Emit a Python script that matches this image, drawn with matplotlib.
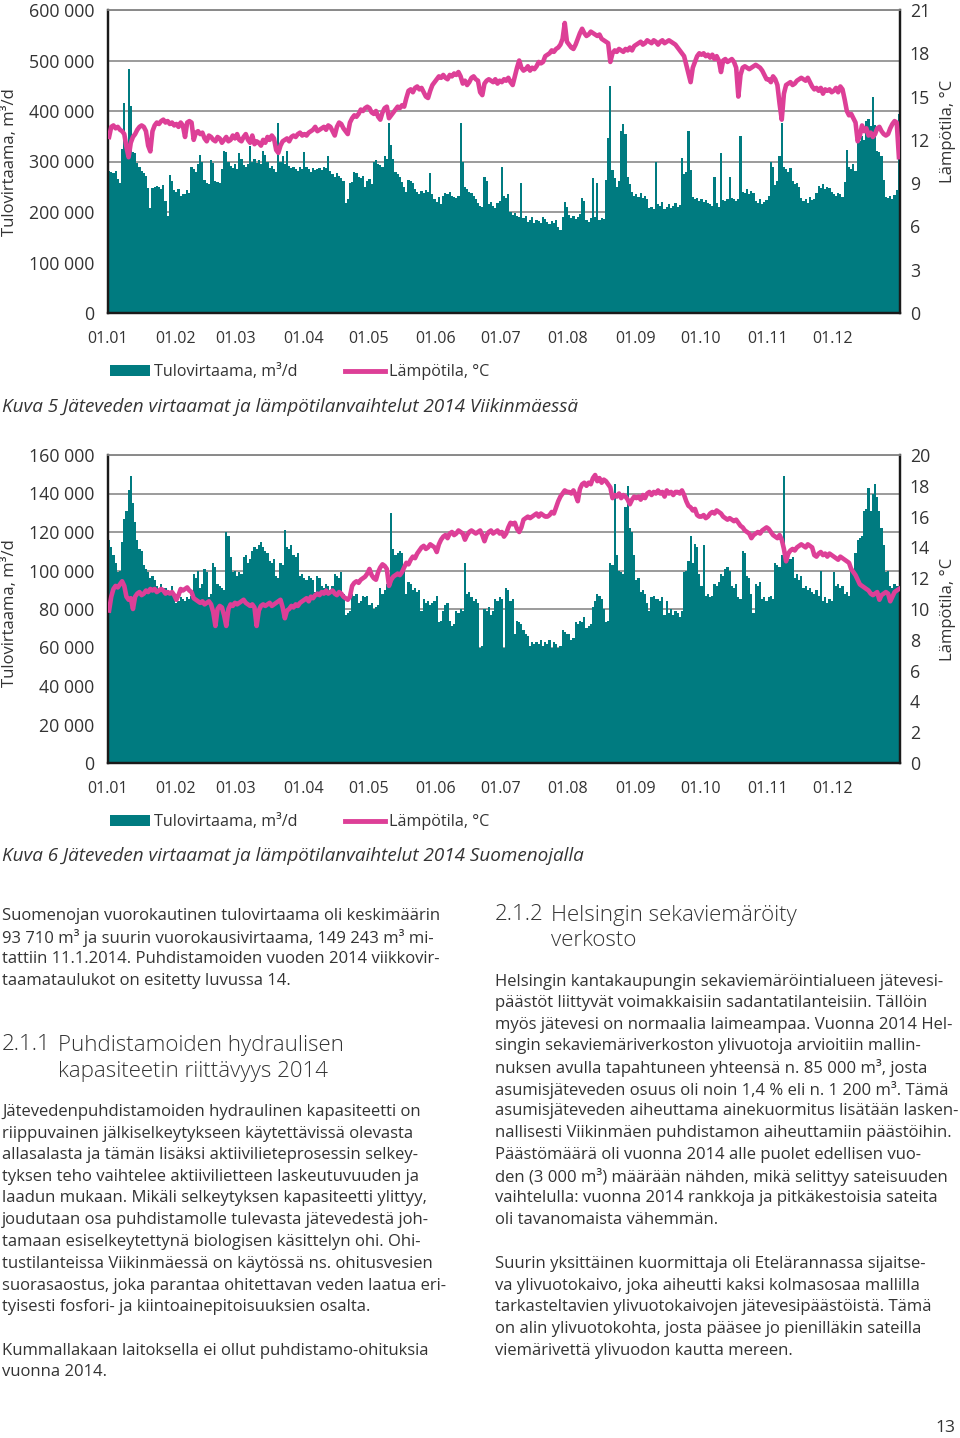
import matplotlib
matplotlib.use('Agg')
from matplotlib import pyplot as plt
from matplotlib.lines import Line2D
from matplotlib.patches import Patch
import numpy as np

plt.rcParams['font.family'] = ['Open Sans', 'DejaVu Sans']

W, H = 960, 1438
teal = '#007b80'
pink = '#dd3f97'
text_col = '#333333'

month_labels = ['01.01', '01.02', '01.03', '01.04', '01.05', '01.06',
                '01.07', '01.08', '01.09', '01.10', '01.11', '01.12']
month_starts = [0, 31, 59, 90, 120, 151, 181, 212, 243, 273, 304, 334]

# Viikinmäki, daily inflow (1000 m3/d), one row per month
viik_flow = [
    282, 280, 278, 281, 265, 258, 325, 415, 320, 483, 410, 318, 316, 297, 290, 282, 278, 272, 247, 208, 248, 250, 252, 250, 245, 253, 222, 192, 273, 262, 243,
    240, 245, 232, 236, 235, 244, 238, 290, 285, 280, 295, 313, 300, 264, 258, 255, 303, 298, 262, 260, 258, 285, 320, 318, 300, 292, 288, 296,
    285, 316, 305, 293, 290, 296, 330, 300, 305, 298, 302, 296, 320, 312, 300, 288, 292, 285, 280, 377, 300, 310, 296, 320, 292, 288, 290, 285, 282, 290, 286,
    318, 290, 285, 280, 288, 283, 285, 287, 284, 290, 288, 310, 282, 275, 270, 278, 272, 268, 262, 218, 225, 257, 260, 280, 278, 270, 268, 272, 250, 262,
    265, 255, 300, 302, 295, 293, 290, 310, 305, 377, 333, 305, 280, 275, 270, 260, 250, 240, 264, 262, 258, 245, 240, 236, 242, 238, 244, 240, 277, 235, 225,
    220, 230, 215, 232, 238, 235, 240, 232, 230, 228, 232, 376, 300, 250, 245, 240, 238, 232, 225, 218, 211, 210, 270, 262, 215, 220, 212, 208, 218, 222,
    290, 232, 228, 236, 200, 195, 198, 192, 190, 257, 188, 192, 180, 185, 190, 178, 185, 182, 178, 190, 186, 180, 176, 182, 178, 184, 170, 165, 190, 220, 210,
    195, 188, 192, 186, 190, 196, 227, 222, 185, 180, 188, 267, 190, 257, 184, 188, 186, 264, 346, 450, 283, 268, 250, 262, 360, 375, 355, 270, 255, 240, 232,
    235, 230, 238, 228, 232, 225, 208, 210, 206, 300, 215, 212, 220, 205, 210, 215, 208, 212, 218, 210, 214, 306, 275, 280, 360, 283, 230, 225, 228, 222,
    226, 220, 224, 218, 215, 212, 270, 218, 210, 316, 224, 222, 226, 270, 228, 225, 222, 226, 350, 240, 238, 245, 236, 242, 238, 222, 218, 225, 216, 220, 224,
    232, 300, 290, 254, 262, 310, 376, 290, 285, 280, 288, 262, 255, 258, 250, 228, 222, 225, 218, 230, 224, 226, 238, 252, 248, 255, 245, 250, 248, 240,
    236, 232, 238, 235, 230, 260, 323, 290, 285, 295, 282, 345, 340, 350, 342, 380, 385, 370, 428, 372, 320, 318, 310, 264, 230, 228, 232, 226, 234, 244, 395,
]

# Viikinmäki, wastewater temperature (°C)
viik_temp = [
    12.2, 12.9, 13.0, 12.8, 12.9, 12.7, 12.6, 12.4, 11.5, 10.8, 11.8, 12.2, 12.4, 12.7, 12.9, 13.0, 12.9, 12.6, 11.6, 11.2, 12.6, 13.0, 13.2, 13.1, 13.3, 13.4, 13.2, 13.3, 13.1, 13.2, 13.0,
    13.1, 12.9, 13.2, 13.0, 12.2, 13.2, 13.3, 13.2, 12.0, 12.5, 12.6, 12.4, 12.5, 12.1, 11.9, 12.3, 12.2, 12.0, 11.9, 12.2, 12.1, 11.8, 12.0, 12.2, 11.9, 12.0, 12.3, 12.1,
    12.4, 12.0, 11.9, 12.2, 12.4, 12.0, 11.8, 12.3, 11.7, 11.9, 11.8, 11.6, 12.0, 11.8, 12.2, 12.0, 12.3, 12.1, 11.3, 11.1, 11.6, 11.9, 12.0, 12.1, 11.9, 12.2, 12.3, 12.2, 12.4, 12.5, 12.3,
    12.4, 12.3, 12.5, 12.6, 12.7, 12.9, 12.6, 12.7, 12.8, 12.9, 12.7, 13.0, 12.9, 12.6, 12.3, 12.9, 13.2, 13.1, 12.8, 12.6, 12.4, 13.2, 13.5, 13.7, 13.6, 13.8, 14.1, 14.0, 14.2, 14.3,
    14.2, 13.9, 13.8, 14.0, 13.6, 13.4, 13.9, 14.2, 14.3, 13.5, 13.7, 13.9, 14.1, 14.3, 14.2, 14.4, 14.3, 14.9, 15.4, 15.5, 15.3, 15.6, 15.7, 15.5, 15.6, 15.3, 15.0, 14.9, 15.4, 15.8, 16.0,
    16.2, 16.4, 16.3, 16.5, 16.3, 16.2, 16.5, 16.4, 16.6, 16.5, 16.7, 16.4, 15.9, 16.1, 15.8, 16.0, 16.3, 16.4, 16.2, 16.1, 15.3, 15.1, 15.9, 16.1, 16.2, 16.1, 16.0, 16.2, 15.9, 16.1,
    16.0, 16.2, 16.1, 16.3, 16.0, 15.8, 16.4, 17.0, 17.5, 17.0, 16.8, 16.9, 17.1, 16.8, 17.0, 16.9, 17.1, 17.4, 17.3, 17.4, 17.8, 17.9, 18.0, 18.2, 18.1, 18.3, 18.4, 18.6, 19.0, 20.1, 18.8,
    18.6, 18.4, 18.3, 18.6, 19.0, 19.4, 19.7, 19.4, 19.2, 19.3, 19.5, 19.4, 19.3, 19.2, 19.3, 19.0, 18.9, 18.8, 18.7, 17.4, 18.0, 18.2, 18.1, 18.3, 18.2, 18.1, 18.3, 18.2, 18.4, 18.2, 18.5,
    18.6, 18.7, 18.8, 18.6, 18.7, 18.9, 18.8, 18.7, 18.9, 18.8, 18.6, 18.8, 18.9, 18.7, 18.8, 18.9, 18.8, 18.7, 18.6, 18.4, 18.2, 18.0, 17.8, 17.2, 16.6, 16.0, 17.0, 17.4, 17.8, 18.0,
    17.9, 18.0, 17.8, 17.9, 17.7, 17.9, 17.6, 17.8, 17.5, 16.7, 17.5, 17.6, 17.4, 17.5, 17.6, 17.4, 17.0, 15.0, 16.5, 17.0, 17.1, 17.0, 16.9, 17.0, 17.1, 17.2, 17.1, 17.0, 16.8, 16.5, 16.2,
    16.2, 16.0, 16.4, 16.2, 15.8, 14.5, 13.4, 15.2, 15.8, 15.9, 16.0, 15.8, 15.9, 16.1, 16.2, 16.3, 16.2, 16.1, 16.3, 16.0, 15.7, 15.5, 15.6, 15.4, 15.6, 15.2, 15.5, 15.4, 15.5, 15.3,
    15.4, 15.6, 15.3, 15.7, 15.5, 14.8, 14.0, 13.7, 13.8, 13.5, 13.2, 11.9, 12.3, 13.0, 12.6, 12.8, 12.3, 12.5, 12.2, 12.4, 12.8, 12.9, 12.6, 12.4, 12.3, 12.4, 12.8, 13.1, 13.3, 13.2, 10.8,
]

# Suomenoja, daily inflow (1000 m3/d)
suom_flow = [
    116, 112, 108, 104, 99, 100, 115, 127, 131, 142, 149, 135, 125, 116, 111, 110, 103, 101, 99, 96, 97, 95, 92, 90, 93, 89, 91, 90, 88, 92, 87,
    83, 84, 86, 85, 84, 86, 85, 87, 98, 96, 100, 91, 93, 101, 99, 86, 88, 104, 102, 93, 92, 91, 90, 120, 118, 107, 99, 100,
    97, 99, 98, 107, 108, 104, 106, 110, 112, 111, 113, 115, 112, 110, 109, 105, 104, 106, 97, 96, 104, 103, 121, 112, 111, 113, 108, 107, 109, 97, 98,
    96, 95, 97, 96, 95, 89, 97, 96, 92, 91, 93, 92, 90, 92, 98, 97, 96, 99, 88, 77, 78, 79, 88, 87, 88, 83, 84, 87, 86, 87,
    82, 83, 80, 81, 82, 91, 88, 90, 93, 94, 130, 111, 108, 109, 110, 109, 102, 88, 94, 93, 90, 91, 89, 90, 79, 85, 83, 84, 82, 83, 84,
    87, 73, 74, 79, 82, 83, 74, 71, 72, 79, 78, 80, 79, 104, 88, 89, 86, 84, 85, 83, 60, 61, 80, 79, 81, 77, 79, 85, 84, 86,
    85, 60, 91, 90, 84, 85, 67, 74, 73, 72, 69, 67, 66, 61, 63, 62, 63, 62, 64, 61, 63, 62, 64, 60, 63, 62, 60, 61, 69, 68, 67,
    67, 64, 65, 73, 72, 74, 73, 76, 70, 71, 72, 81, 84, 88, 87, 85, 80, 73, 74, 104, 103, 145, 108, 100, 99, 98, 133, 144, 122, 120, 108,
    95, 96, 89, 90, 88, 83, 79, 86, 87, 85, 85, 84, 86, 77, 84, 78, 80, 77, 79, 78, 76, 79, 99, 100, 105, 118, 104, 114, 112, 98,
    92, 113, 87, 88, 86, 87, 93, 92, 94, 98, 97, 101, 102, 100, 92, 91, 93, 86, 85, 110, 109, 97, 96, 88, 78, 93, 92, 94, 85, 86, 84,
    86, 87, 85, 104, 103, 102, 108, 149, 107, 108, 106, 107, 96, 98, 95, 97, 91, 92, 90, 91, 89, 88, 90, 87, 100, 84, 86, 83, 85, 84,
    99, 92, 93, 91, 92, 88, 89, 87, 100, 99, 109, 116, 117, 118, 131, 132, 143, 131, 140, 145, 138, 131, 122, 113, 99, 100, 92, 91, 93, 92, 92,
]

# Suomenoja, wastewater temperature (°C)
suom_temp = [
    9.9, 10.8, 11.3, 11.5, 11.4, 11.6, 11.8, 11.5, 10.8, 10.6, 10.7, 10.0, 10.8, 11.0, 11.1, 10.9, 11.0, 11.2, 11.1, 11.3, 11.2, 11.3, 11.1, 11.2, 11.3, 11.2, 11.0, 11.1, 11.0, 11.1, 10.9,
    10.6, 10.9, 11.3, 11.2, 11.3, 11.4, 11.2, 11.1, 10.7, 10.6, 10.5, 10.4, 10.5, 10.3, 10.4, 10.5, 10.3, 9.8, 8.9, 10.0, 10.2, 10.1, 9.6, 8.9, 10.0, 10.3, 10.2, 10.4,
    10.3, 10.4, 10.5, 10.6, 10.4, 10.3, 10.2, 10.3, 10.1, 8.9, 9.9, 10.2, 10.3, 10.2, 10.3, 10.4, 10.2, 10.3, 10.4, 10.5, 10.6, 10.1, 9.4, 9.9, 10.0, 10.2, 10.1, 10.3, 10.2, 10.4, 10.5,
    10.6, 10.7, 10.5, 10.8, 10.7, 10.9, 11.0, 10.9, 11.1, 11.0, 11.2, 11.0, 11.1, 11.2, 11.0, 10.9, 11.1, 11.0, 10.8, 10.7, 10.6, 10.8, 11.5, 11.7, 11.8, 11.7, 11.9, 12.0, 12.1, 12.3,
    12.6, 12.2, 12.0, 11.9, 12.4, 12.7, 12.9, 12.8, 12.6, 11.5, 11.9, 12.1, 12.2, 12.3, 12.2, 12.4, 12.7, 13.0, 12.9, 13.2, 13.4, 13.3, 13.6, 13.8, 14.0, 14.1, 13.9, 14.0, 14.2, 14.1, 14.0,
    13.7, 14.2, 14.5, 14.7, 14.8, 14.6, 14.9, 15.0, 14.8, 14.9, 15.1, 15.0, 14.9, 14.5, 14.8, 15.0, 15.1, 15.0, 14.9, 15.0, 15.1, 14.8, 14.4, 14.8, 15.0, 15.1, 14.9, 15.0, 15.1, 14.9,
    15.0, 14.7, 14.9, 15.3, 15.6, 15.5, 15.6, 15.2, 15.0, 15.3, 15.8, 15.9, 16.0, 15.9, 16.0, 16.1, 16.2, 16.0, 16.2, 16.1, 16.0, 16.0, 16.1, 16.3, 16.2, 16.6, 17.0, 17.3, 17.5, 17.7, 17.6,
    17.6, 17.5, 17.7, 17.4, 17.0, 17.8, 18.1, 18.2, 18.0, 18.2, 18.1, 18.5, 18.7, 18.3, 18.5, 18.2, 18.4, 18.3, 18.1, 17.9, 17.2, 17.4, 17.3, 17.5, 17.2, 17.4, 17.3, 17.1, 16.8, 17.1, 17.3,
    17.2, 17.3, 17.1, 17.4, 17.2, 17.5, 17.6, 17.4, 17.6, 17.5, 17.7, 17.5, 17.6, 17.3, 17.7, 17.5, 17.6, 17.4, 17.6, 17.6, 17.5, 17.7, 17.4, 17.0, 16.7, 16.6, 16.4, 16.5, 16.1, 16.0,
    16.0, 16.1, 15.9, 16.0, 16.2, 16.3, 16.2, 16.4, 16.3, 16.2, 16.0, 15.9, 15.8, 15.9, 15.8, 15.7, 15.8, 15.6, 15.4, 15.3, 15.1, 15.0, 14.9, 14.6, 14.8, 14.9, 15.0, 14.9, 15.1, 15.2, 15.3,
    15.2, 15.0, 14.8, 14.7, 14.6, 14.8, 14.5, 13.9, 13.1, 13.6, 13.8, 13.9, 13.8, 14.0, 14.1, 14.2, 14.1, 14.0, 14.2, 14.1, 14.0, 13.5, 13.4, 13.6, 13.7, 13.5, 13.6, 13.4, 13.6, 13.5,
    13.4, 13.3, 13.2, 13.4, 13.3, 13.2, 13.1, 13.0, 12.6, 12.4, 12.2, 11.9, 11.6, 11.5, 11.4, 11.3, 11.2, 11.0, 10.9, 11.0, 11.1, 10.6, 10.9, 11.0, 11.1, 11.0, 10.5, 10.8, 11.1, 11.2, 11.3,
]

flow_label = 'Tulovirtaama, m³/d'
temp_label = 'Lämpötila, °C'
caption_5 = 'Kuva 5 Jäteveden virtaamat ja lämpötilanvaihtelut 2014 Viikinmäessä'
caption_6 = 'Kuva 6 Jäteveden virtaamat ja lämpötilanvaihtelut 2014 Suomenojalla'


def fx(x):
    return x / W


def fy(y):
    return 1 - y / H


def fmt(v):
    return f'{int(v):,}'.replace(',', ' ')


def chart(fig, top, bottom, flow, temp, flow_max, flow_step, temp_max, temp_step):
    ax = fig.add_axes([fx(108), fy(bottom), fx(900) - fx(108), (bottom - top) / H])
    days = np.arange(len(flow))
    ax.bar(days, np.array(flow) * 1000, width=1.0, align='edge', color=teal, linewidth=0, zorder=2)
    ax.set_xlim(0, 365)
    ax.set_ylim(0, flow_max)
    ticks = np.arange(0, flow_max + 1, flow_step)
    ax.set_yticks(ticks)
    ax.set_yticklabels([fmt(t) for t in ticks])
    ax.set_axisbelow(True)
    ax.yaxis.grid(True, color='#8a8a8a', lw=1.2, zorder=0)
    ax.set_xticks(month_starts)
    ax.set_xticklabels(month_labels)
    ax.tick_params(axis='both', length=0, colors=text_col)
    ax.tick_params(axis='x', pad=13, labelsize=11.5)
    ax.tick_params(axis='y', pad=10, labelsize=12.8)

    ax2 = ax.twinx()
    ax2.plot(days + 0.5, temp, color=pink, lw=3.3, solid_joinstyle='round', zorder=3)
    ax2.set_ylim(0, temp_max)
    ax2.set_yticks(np.arange(0, temp_max + 0.1, temp_step))
    ax2.tick_params(axis='y', length=0, labelsize=12.8, colors=text_col, pad=7)
    for a in (ax, ax2):
        for side in ('left', 'right', 'bottom'):
            a.spines[side].set_color('#1a1a1a')
            a.spines[side].set_linewidth(1.6)
        a.spines['top'].set_color('#8a8a8a')
        a.spines['top'].set_linewidth(1.2)
    return ax


def legend(fig, y):
    handles = [Patch(facecolor=teal, edgecolor='none'),
               Line2D([], [], color=pink, lw=3.5)]
    fig.legend(handles, [flow_label, temp_label], loc='center left',
               bbox_to_anchor=(fx(110), fy(y)), ncol=2, frameon=False,
               fontsize=11.6, handlelength=2.5, handleheight=0.62,
               handletextpad=0.25, columnspacing=2.9, borderpad=0,
               borderaxespad=0, labelcolor=text_col)


fig = plt.figure(figsize=(W / 100, H / 100), dpi=100)

chart(fig, 10, 313, viik_flow, viik_temp, 600000, 100000, 21, 3)
fig.text(fx(10), fy(162), flow_label, rotation=90, ha='center', va='center', fontsize=12, color=text_col)
fig.text(fx(948), fy(131), temp_label, rotation=90, ha='center', va='center', fontsize=12, color=text_col)
legend(fig, 372)
fig.text(fx(2), fy(407), caption_5, ha='left', va='center', fontsize=13.6, style='italic', color=text_col)

chart(fig, 455, 763, suom_flow, suom_temp, 160000, 20000, 20, 2)
fig.text(fx(10), fy(613), flow_label, rotation=90, ha='center', va='center', fontsize=12, color=text_col)
fig.text(fx(948), fy(609), temp_label, rotation=90, ha='center', va='center', fontsize=12, color=text_col)
legend(fig, 822)
fig.text(fx(2), fy(856), caption_6, ha='left', va='center', fontsize=13.6, style='italic', color=text_col)

# body text, left column
left_lines = [
    (916, 'Suomenojan vuorokautinen tulovirtaama oli keskimäärin'),
    (938, '93 710 m³ ja suurin vuorokausivirtaama, 149 243 m³ mi-'),
    (959, 'tattiin 11.1.2014. Puhdistamoiden vuoden 2014 viikkovir-'),
    (981, 'taamataulukot on esitetty luvussa 14.'),
    (1112, 'Jätevedenpuhdistamoiden hydraulinen kapasiteetti on'),
    (1134, 'riippuvainen jälkiselkeytykseen käytettävissä olevasta'),
    (1155, 'allasalasta ja tämän lisäksi aktiivilieteprosessin selkey-'),
    (1177, 'tyksen teho vaihtelee aktiivilietteen laskeutuvuuden ja'),
    (1198, 'laadun mukaan. Mikäli selkeytyksen kapasiteetti ylittyy,'),
    (1220, 'joudutaan osa puhdistamolle tulevasta jätevedestä joh-'),
    (1242, 'tamaan esiselkeytettynä biologisen käsittelyn ohi. Ohi-'),
    (1264, 'tustilanteissa Viikinmäessä on käytössä ns. ohitusvesien'),
    (1286, 'suorasaostus, joka parantaa ohitettavan veden laatua eri-'),
    (1307, 'tyisesti fosfori- ja kiintoainepitoisuuksien osalta.'),
    (1351, 'Kummallakaan laitoksella ei ollut puhdistamo-ohituksia'),
    (1372, 'vuonna 2014.'),
]
right_lines = [
    (982, 'Helsingin kantakaupungin sekaviemäröintialueen jätevesi-'),
    (1003, 'päästöt liittyvät voimakkaisiin sadantatilanteisiin. Tällöin'),
    (1025, 'myös jätevesi on normaalia laimeampaa. Vuonna 2014 Hel-'),
    (1046, 'singin sekaviemäriverkoston ylivuotoja arvioitiin mallin-'),
    (1068, 'nuksen avulla tapahtuneen yhteensä n. 85 000 m³, josta'),
    (1090, 'asumisjäteveden osuus oli noin 1,4 % eli n. 1 200 m³. Tämä'),
    (1111, 'asumisjäteveden aiheuttama ainekuormitus lisätään lasken-'),
    (1133, 'nallisesti Viikinmäen puhdistamon aiheuttamiin päästöihin.'),
    (1155, 'Päästömäärä oli vuonna 2014 alle puolet edellisen vuo-'),
    (1177, 'den (3 000 m³) määrään nähden, mikä selittyy sateisuuden'),
    (1198, 'vaihtelulla: vuonna 2014 rankkoja ja pitkäkestoisia sateita'),
    (1220, 'oli tavanomaista vähemmän.'),
    (1264, 'Suurin yksittäinen kuormittaja oli Etelärannassa sijaitse-'),
    (1286, 'va ylivuotokaivo, joka aiheutti kaksi kolmasosaa mallilla'),
    (1307, 'tarkasteltavien ylivuotokaivojen jätevesipäästöistä. Tämä'),
    (1329, 'on alin ylivuotokohta, josta pääsee jo pienilläkin sateilla'),
    (1351, 'viemärivettä ylivuodon kautta mereen.'),
]
for y, s in left_lines:
    fig.text(fx(2), fy(y), s, ha='left', va='center', fontsize=12, color=text_col)
for y, s in right_lines:
    fig.text(fx(495), fy(y), s, ha='left', va='center', fontsize=12, color=text_col)

# headings
head_kw = dict(ha='left', va='center', fontsize=16, fontweight='light', color=text_col)
fig.text(fx(2), fy(1045), '2.1.1', **head_kw)
fig.text(fx(58), fy(1045), 'Puhdistamoiden hydraulisen', **head_kw)
fig.text(fx(58), fy(1071), 'kapasiteetin riittävyys 2014', **head_kw)
fig.text(fx(495), fy(915), '2.1.2', **head_kw)
fig.text(fx(551), fy(915), 'Helsingin sekaviemäröity', **head_kw)
fig.text(fx(551), fy(941), 'verkosto', **head_kw)

fig.text(fx(945), fy(1428), '13', ha='center', va='center', fontsize=12.5, color=text_col)

fig.savefig('out.png', dpi=100)
